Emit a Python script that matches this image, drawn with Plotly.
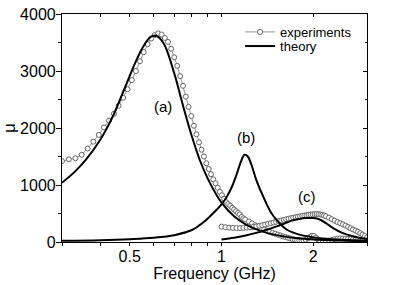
import numpy as np
import plotly.graph_objects as go

# ---- experiments, resonance (a) ----
exp_a_f = [0.300, 0.316, 0.332, 0.348, 0.364, 0.380, 0.396, 0.412, 0.428, 0.444,
           0.460, 0.476, 0.492, 0.508, 0.524, 0.540, 0.556, 0.572, 0.588, 0.604,
           0.620, 0.636, 0.652, 0.668, 0.684, 0.700, 0.716, 0.732, 0.748, 0.764,
           0.780, 0.796, 0.812, 0.828, 0.844, 0.860, 0.876, 0.892, 0.908, 0.924,
           0.940, 0.956, 0.972, 0.988, 1.004, 1.020, 1.036, 1.052, 1.068, 1.084,
           1.100, 1.116, 1.132, 1.148, 1.164, 1.180, 1.196, 1.23, 1.26, 1.29,
           1.32, 1.35, 1.38, 1.41, 1.44, 1.47, 1.50, 1.53, 1.56, 1.59,
           1.62, 1.65, 1.68, 1.71, 1.74, 1.77, 1.80, 1.83, 1.86, 1.89,
           1.92, 1.95, 1.98, 2.01, 2.04, 2.07, 2.10, 2.15, 2.20, 2.25,
           2.30, 2.35, 2.40, 2.45, 2.50, 2.55, 2.60, 2.65, 2.70, 2.75,
           2.80, 2.85, 2.90]
exp_a_mu = [1420, 1450, 1470, 1530, 1640, 1760, 1880, 2010, 2130, 2250,
            2390, 2530, 2680, 2840, 3000, 3170, 3330, 3470, 3570, 3630,
            3660, 3640, 3580, 3510, 3390, 3240, 3090, 2910, 2740, 2550,
            2370, 2210, 2040, 1890, 1750, 1620, 1500, 1380, 1280, 1190,
            1100, 1030, 950, 880, 820, 760, 700, 665, 635, 600,
            570, 540, 510, 485, 440, 415, 395, 360, 325, 295,
            270, 245, 220, 200, 180, 160, 145, 130, 115, 100,
            88, 75, 62, 50, 40, 32, 28, 25, 28, 40,
            65, 90, 110, 105, 75, 45, 30, 22, 20, 25,
            35, 50, 60, 65, 60, 55, 55, 50, 45, 40,
            40, 35, 30]

# ---- experiments, resonance (c) ----
exp_c_f = [1.00, 1.03, 1.06, 1.09, 1.12, 1.15, 1.18, 1.21, 1.24, 1.27,
           1.30, 1.33, 1.36, 1.39, 1.42, 1.45, 1.48, 1.51, 1.54, 1.57,
           1.60, 1.63, 1.66, 1.69, 1.72, 1.75, 1.78, 1.81, 1.84, 1.87,
           1.90, 1.93, 1.96, 1.99, 2.02, 2.05, 2.08, 2.11, 2.14, 2.17,
           2.20, 2.25, 2.30, 2.35, 2.40, 2.45, 2.50, 2.55, 2.60, 2.65,
           2.70, 2.75, 2.80, 2.85, 2.90, 2.95, 3.00]
exp_c_mu = [270, 260, 252, 247, 245, 245, 247, 251, 257, 265,
            274, 284, 295, 306, 318, 330, 342, 354, 366, 377,
            388, 398, 408, 418, 427, 436, 444, 451, 458, 465,
            471, 477, 482, 486, 489, 490, 488, 484, 477, 466,
            452, 428, 400, 375, 350, 330, 310, 288, 265, 242,
            220, 200, 180, 155, 130, 105, 80]

# ---- theory curves ----
th_a_f = [0.30, 0.33, 0.36, 0.40, 0.44, 0.48, 0.52, 0.55, 0.58, 0.60, 0.62, 0.65,
          0.70, 0.75, 0.80, 0.85, 0.90, 0.95, 1.00, 1.10, 1.20, 1.35, 1.50, 1.75,
          2.00, 2.50, 3.00]
th_a_mu = [1040, 1230, 1450, 1790, 2200, 2680, 3130, 3400, 3580, 3620, 3600, 3460,
           2960, 2370, 1850, 1430, 1120, 880, 690, 450, 310, 190, 125, 70,
           45, 25, 15]

th_b_f = [0.30, 0.40, 0.50, 0.60, 0.70, 0.80, 0.85, 0.90, 0.95, 1.00, 1.04, 1.08,
          1.12, 1.16, 1.19, 1.22, 1.26, 1.30, 1.38, 1.46, 1.55, 1.64, 1.80, 1.96,
          2.20, 2.60, 3.00]
th_b_mu = [20, 32, 50, 75, 120, 210, 300, 410, 530, 660, 790, 960,
           1180, 1420, 1530, 1500, 1320, 1090, 760, 500, 330, 215, 130, 90,
           55, 35, 22]

th_c_f = [1.00, 1.10, 1.20, 1.30, 1.40, 1.50, 1.60, 1.70, 1.80, 1.90, 2.00, 2.10,
          2.20, 2.33, 2.50, 2.70, 2.85, 3.00]
th_c_mu = [45, 75, 115, 160, 210, 265, 320, 375, 405, 420, 420, 395,
           330, 240, 155, 100, 70, 55]

x_tickvals = [0.3, 0.4, 0.5, 0.6, 0.7, 0.8, 0.9, 1, 2, 3]
x_ticktext = ['', '', '0.5', '', '', '', '', '1', '2', '']

labels = ['(a)', '(b)', '(c)']
label_f = [0.643, 1.20, 1.905]
label_mu = [2370, 1840, 790]

FONT = 'Liberation Sans, Arial, sans-serif'
EXP_COLOR = '#666666'

fig = go.Figure()

exp_style = dict(mode='lines+markers',
                 line=dict(color='#7a7a7a', width=0.8),
                 marker=dict(symbol='circle', size=5, color='white',
                             line=dict(color=EXP_COLOR, width=1)))
fig.add_trace(go.Scatter(x=exp_a_f, y=exp_a_mu, name='experiments',
                         legend='legend', legendgroup='exp', **exp_style))
fig.add_trace(go.Scatter(x=exp_c_f, y=exp_c_mu, name='experiments',
                         legendgroup='exp', showlegend=False, **exp_style))

th_style = dict(mode='lines', line=dict(color='black', width=2, shape='spline'))
fig.add_trace(go.Scatter(x=th_a_f, y=th_a_mu, name='theory',
                         legend='legend2', legendgroup='th', **th_style))
fig.add_trace(go.Scatter(x=th_b_f, y=th_b_mu, name='theory',
                         legendgroup='th', showlegend=False, **th_style))
fig.add_trace(go.Scatter(x=th_c_f, y=th_c_mu, name='theory',
                         legendgroup='th', showlegend=False, **th_style))

# empty trace to create the mirrored frame axes
fig.add_trace(go.Scatter(x=[], y=[], xaxis='x2', yaxis='y2',
                         showlegend=False, hoverinfo='skip'))

xrange = [np.log10(0.3), np.log10(3)]
axis_common = dict(showgrid=False, zeroline=False, showline=True,
                   linecolor='black', linewidth=1.2, tickcolor='black',
                   tickwidth=1, automargin=False)

legend_common = dict(xanchor='left', yanchor='top', bgcolor='rgba(0,0,0,0)',
                     font=dict(size=13), tracegroupgap=0)

fig.update_layout(
    width=409, height=285, autosize=False,
    margin=dict(l=62, r=42, t=14, b=43),
    paper_bgcolor='white', plot_bgcolor='white',
    font=dict(family=FONT, color='black', size=16),
    xaxis=dict(type='log', range=xrange, tickmode='array',
               tickvals=x_tickvals, ticktext=x_ticktext,
               ticks='outside', ticklen=3, ticklabelstandoff=-3,
               tickfont=dict(size=16),
               title=dict(text='Frequency (GHz)', font=dict(size=16), standoff=0),
               **axis_common),
    xaxis2=dict(type='log', range=xrange, tickmode='array',
                tickvals=x_tickvals, ticktext=x_ticktext,
                overlaying='x', side='top', anchor='y2',
                ticks='inside', ticklen=3, showticklabels=False,
                **axis_common),
    yaxis=dict(range=[0, 4000], tickmode='linear', tick0=0, dtick=1000,
               ticks='outside', ticklen=5, ticklabelstandoff=-3,
               minor=dict(dtick=500, ticks='outside', ticklen=3,
                          tickcolor='black', showgrid=False),
               tickfont=dict(size=16),
               title=dict(text='μ', font=dict(size=17), standoff=11),
               **axis_common),
    yaxis2=dict(range=[0, 4000], tickmode='linear', tick0=0, dtick=1000,
                overlaying='y', side='right', anchor='x2',
                ticks='inside', ticklen=4, showticklabels=False,
                minor=dict(dtick=500, ticks='inside', ticklen=2,
                           tickcolor='black', showgrid=False),
                **axis_common),
    legend=dict(x=0.584, y=0.987, **legend_common),
    legend2=dict(x=0.584, y=0.925, **legend_common),
    showlegend=True,
)

for t, f, m in zip(labels, label_f, label_mu):
    fig.add_annotation(x=np.log10(f), y=m, text=t, showarrow=False,
                       font=dict(size=15), xref='x', yref='y')

fig.write_html('out.html',
               config={'displayModeBar': False},
               post_script="document.body.style.margin='0';")
